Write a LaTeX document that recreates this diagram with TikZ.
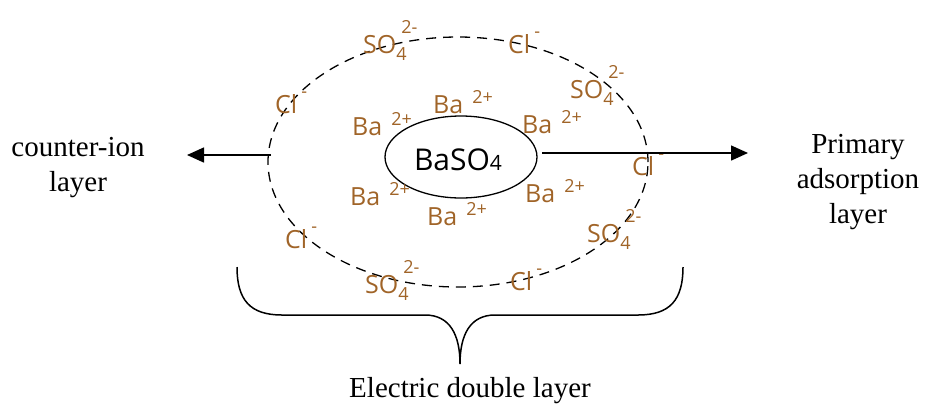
\documentclass[tikz,border=0pt]{standalone}
\usepackage{fontspec}
\setmainfont{Liberation Serif}
\newfontfamily\ionfont{Open Sans}
\usetikzlibrary{shapes.geometric,arrows.meta}
\definecolor{ionbrown}{RGB}{160,100,40}
\newcommand\supsz{\fontsize{18}{18}\selectfont}
\newcommand\myBa{Ba\hspace{9pt}\raisebox{10pt}{\supsz 2+}}
\newcommand\mySO{SO\makebox[0pt][l]{\raisebox{-7pt}{\supsz 4}}\hspace{5pt}\raisebox{20pt}{\supsz 2-}}
\newcommand\myCl{Cl\hspace{4pt}\raisebox{16pt}{\supsz -}}
\begin{document}
\begin{tikzpicture}[x=1pt,y=-1pt,
  ion/.style={anchor=base west,inner sep=0pt,text=ionbrown,font=\ionfont\fontsize{25}{27}\selectfont},
  lbl/.style={align=center,font=\fontsize{29}{35}\selectfont,inner sep=0pt},
  arr/.style={line width=1.5pt,-{Triangle[length=17pt,width=15pt]}}]
\useasboundingbox (0,0) rectangle (925,405);
% ellipses
\node[ellipse,draw,dashed,dash pattern=on 10pt off 7pt,line width=1.3pt,minimum width=380pt,minimum height=250pt,inner sep=0pt] (outer) at (458,162) {};
\node[ellipse,draw,line width=1.3pt,minimum width=152pt,minimum height=82pt,inner sep=0pt] (inner) at (461,157) {};
\node[inner sep=0pt,font=\ionfont\fontsize{30}{30}\selectfont] (baso) at (458,160) {BaSO{\fontsize{21}{21}\selectfont 4}};
% Ba ions
\node[ion] (ba1) at (352,135) {\myBa};
\node[ion] (ba2) at (433,113) {\myBa};
\node[ion] (ba3) at (522,133) {\myBa};
\node[ion] (ba4) at (350,205) {\myBa};
\node[ion] (ba5) at (427,225) {\myBa};
\node[ion] (ba6) at (525,202) {\myBa};
% SO4 ions
\node[ion] (so1) at (363,53) {\mySO};
\node[ion] (so2) at (570,98) {\mySO};
\node[ion] (so3) at (587,242) {\mySO};
\node[ion] (so4) at (365,293) {\mySO};
% Cl ions
\node[ion] (cl1) at (508,53) {\myCl};
\node[ion] (cl2) at (275,113) {\myCl};
\node[ion] (cl3) at (632,175) {\myCl};
\node[ion] (cl4) at (285,248) {\myCl};
\node[ion] (cl5) at (510,290) {\myCl};
% labels
\node[lbl] (counter) at (78,168) {counter-ion\\layer};
\node[lbl] (primary) at (858,182) {Primary\\adsorption\\layer};
\node[lbl] (edl) at (470,391) {Electric double layer};
% arrows
\coordinate (lstart) at (271,155);
\coordinate (lend) at (187,155);
\coordinate (rstart) at (542,153);
\coordinate (rend) at (748,153);
\draw[arr] (lstart) -- (lend);
\draw[arr] (rstart) -- (rend);
% brace
\coordinate (bl) at (237,267);
\coordinate (br) at (683,267);
\coordinate (bt) at (460,364);
\draw[line width=1.5pt] (bl) .. controls (237,300) and (250,315) .. (282,315)
  -- (425,315) .. controls (450,315) and (460,335) .. (bt)
  .. controls (460,335) and (470,315) .. (495,315)
  -- (638,315) .. controls (670,315) and (683,300) .. (br);
\end{tikzpicture}
\end{document}
